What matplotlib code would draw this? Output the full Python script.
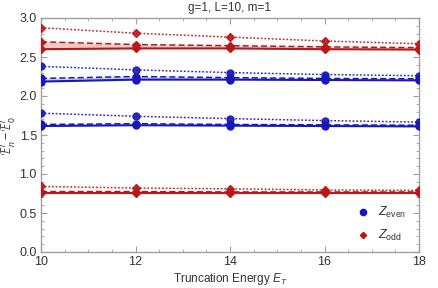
import matplotlib
matplotlib.use("Agg")
import matplotlib.pyplot as plt
from matplotlib.ticker import MultipleLocator

plt.rcParams['font.family'] = ['Liberation Sans', 'DejaVu Sans']
plt.rcParams['mathtext.fontset'] = 'custom'
plt.rcParams['mathtext.rm'] = 'Liberation Sans'
plt.rcParams['mathtext.it'] = 'Liberation Sans:italic'

ET = [10, 12, 14, 16, 18]

# Z_odd lower level
odd1_dot = [0.84, 0.82, 0.81, 0.795, 0.79]
odd1_dash = [0.775, 0.775, 0.77, 0.77, 0.77]
odd1_sol = [0.76, 0.76, 0.76, 0.76, 0.76]

# Z_even lower level
even1_dot = [1.78, 1.74, 1.71, 1.685, 1.665]
even1_dash = [1.635, 1.645, 1.635, 1.63, 1.625]
even1_sol = [1.615, 1.625, 1.62, 1.615, 1.61]

# Z_even upper level
even2_dot = [2.38, 2.335, 2.30, 2.275, 2.26]
even2_dash = [2.225, 2.25, 2.235, 2.225, 2.22]
even2_sol = [2.185, 2.21, 2.21, 2.205, 2.20]

# Z_odd upper level
odd2_dot = [2.875, 2.805, 2.755, 2.705, 2.67]
odd2_dash = [2.695, 2.66, 2.645, 2.63, 2.62]
odd2_sol = [2.60, 2.61, 2.61, 2.60, 2.595]

blue = '#1818b8'
red = '#b81818'
fill_blue = '#c0c4ee'
fill_red = '#f2bcbc'

fig = plt.figure(figsize=(4.38, 2.88), dpi=100)
ax = fig.add_axes([41/438, 1-252/288, (419-41)/438, (252-18)/288])

groups = [
    (odd1_dot, odd1_dash, odd1_sol, red, fill_red, 'D', 3.6),
    (even1_dot, even1_dash, even1_sol, blue, fill_blue, 'o', 5.0),
    (even2_dot, even2_dash, even2_sol, blue, fill_blue, 'o', 5.0),
    (odd2_dot, odd2_dash, odd2_sol, red, fill_red, 'D', 3.6),
]
for dot, dash, sol, c, fc, mk, ms in groups:
    ax.fill_between(ET, sol, dash, color=fc, alpha=0.85, lw=0, zorder=1)
    ax.plot(ET, dot, ls=(0, (1.2, 1.2)), lw=1.1, color=c, alpha=0.9, marker=mk, ms=ms, zorder=3)
    ax.plot(ET, dash, ls=(0, (4, 2)), lw=1.1, color=c, marker=mk, ms=ms, zorder=3)
    ax.plot(ET, sol, ls='-', lw=1.5, color=c, marker=mk, ms=ms, zorder=3)

ax.set_xlim(10, 18)
ax.set_ylim(0, 3.0)
ax.xaxis.set_major_locator(MultipleLocator(2))
ax.xaxis.set_minor_locator(MultipleLocator(0.5))
ax.yaxis.set_major_locator(MultipleLocator(0.5))
ax.yaxis.set_minor_locator(MultipleLocator(0.1))
ax.yaxis.set_major_formatter(plt.FuncFormatter(lambda v, p: f"{v:.1f}"))

for s in ax.spines.values():
    s.set_color('#a0a0a0')
    s.set_linewidth(1.0)
ax.tick_params(which='both', direction='in', top=True, right=True, color='#a0a0a0',
               labelsize=9, labelcolor='#333333')
ax.tick_params(which='major', length=4, width=0.8, pad=3)
ax.tick_params(which='minor', length=2, width=0.6)

ax.set_title('g=1, L=10, m=1', fontsize=8.5, color='#333333', pad=5)
ax.set_xlabel('Truncation Energy $E_T$', fontsize=8.5, color='#333333', labelpad=2)
ax.set_ylabel(r'$\mathcal{E}_n^i-\mathcal{E}_0^i$', fontsize=9, color='#333333', labelpad=0)

h1, = ax.plot([], [], 'o', color=blue, ms=4.5, ls='none')
h2, = ax.plot([], [], 'D', color=red, ms=3.2, ls='none')
leg = ax.legend([h1, h2], [r'$Z_{\mathrm{even}}$', r'$Z_{\mathrm{odd}}$'], loc='lower right',
                bbox_to_anchor=(0.995, -0.01), frameon=False, fontsize=9, handletextpad=0.7,
                labelspacing=0.6, handlelength=1.0)
for t in leg.get_texts():
    t.set_color('#333333')

fig.savefig('out.png', dpi=100)
